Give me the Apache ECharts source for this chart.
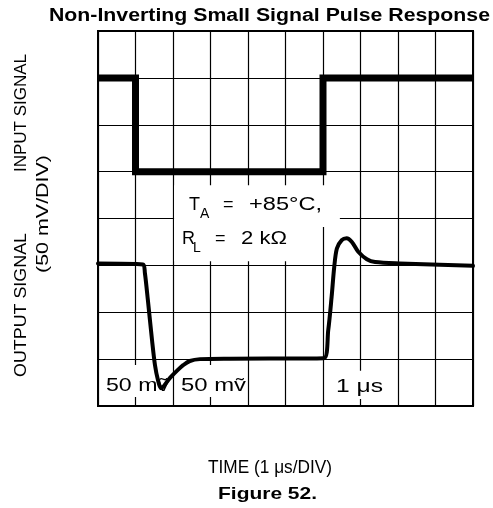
<!DOCTYPE html>
<html>
<head>
<meta charset="utf-8">
<script src="https://cdn.jsdelivr.net/npm/echarts@6/dist/echarts.min.js"></script>
<style>
  html, body { margin: 0; padding: 0; background: #fff; }
  #chart { width: 493px; height: 508px; }
</style>
</head>
<body>
<div id="chart"></div>
<script>
// Scope screen: time in divisions (1 µs/DIV), level in divisions (50 mV/DIV)
const xDivisions = [0, 1, 2, 3, 4, 5, 6, 7, 8, 9, 10];
const yDivisions = [0, 1, 2, 3, 4, 5, 6, 7, 8];

// Input pulse (upper trace)
const inputTime  = [0, 1.0, 1.0, 6.0, 6.0, 10];
const inputLevel = [7, 7, 5, 5, 7, 7];

// Output response (lower trace)
const outputTime  = [0, 1.2, 1.25, 1.33, 1.44, 1.52, 1.6, 1.68, 1.92, 2.13, 2.27, 2.45, 2.72, 3.52,
                     6.02, 6.14, 6.23, 6.3, 6.37, 6.5, 6.63, 6.77, 6.94, 7.17, 7.39, 8.05, 10];
const outputLevel = [3.04, 3.02, 2.84, 2.26, 1.41, 0.87, 0.55, 0.38, 0.6, 0.77, 0.87, 0.96, 1.0, 1.01,
                     1.02, 1.62, 2.33, 2.97, 3.36, 3.54, 3.58, 3.5, 3.29, 3.13, 3.07, 3.04, 2.99];

const pairs = (xs, ys) => xs.map((x, i) => [x, ys[i]]);

const PLAIN = '"Liberation Sans", Arial, sans-serif';
const BOLD = '"Liberation Sans", Arial, sans-serif';

const ctx = document.createElement('canvas').getContext('2d');
// Text element stretched horizontally to a given width
function label(str, opt) {
  const weight = opt.weight || 'normal';
  const family = opt.family || PLAIN;
  const size = opt.size;
  const fontStr = weight + ' ' + size + 'px ' + family;
  ctx.font = fontStr;
  const w = ctx.measureText(str).width;
  const sx = opt.width ? opt.width / w : 1;
  return {
    type: 'text',
    x: opt.x, y: opt.y,
    rotation: opt.rot || 0,
    scaleX: sx,
    z: 3,
    silent: true,
    style: {
      text: str,
      font: fontStr,
      fill: '#000',
      textAlign: opt.align || 'center',
      align: opt.align || 'center',
      textVerticalAlign: 'middle',
      verticalAlign: 'middle'
    }
  };
}

const chart = echarts.init(document.getElementById('chart'), null, { renderer: 'canvas' });

const splitStyle = { show: true, lineStyle: { color: '#000', width: 1.2 } };

chart.setOption({
  animation: false,
  backgroundColor: '#fff',
  grid: { left: 98, right: 20, top: 31, bottom: 102, show: true, borderColor: '#000', borderWidth: 2, backgroundColor: 'transparent' },
  xAxis: {
    type: 'value', min: xDivisions[0], max: xDivisions[xDivisions.length - 1], interval: 1,
    axisLine: { show: false }, axisTick: { show: false }, axisLabel: { show: false },
    splitLine: splitStyle
  },
  yAxis: {
    type: 'value', min: yDivisions[0], max: yDivisions[yDivisions.length - 1], interval: 1,
    axisLine: { show: false }, axisTick: { show: false }, axisLabel: { show: false },
    splitLine: splitStyle
  },
  series: [
    {
      // white backing behind the annotations
      type: 'line', data: [], z: 1, silent: true,
      markArea: {
        silent: true,
        itemStyle: { color: '#fff', borderWidth: 0 },
        label: { show: false },
        data: [
          [{ coord: [2.03, 4.71] }, { coord: [6.45, 3.82] }],
          [{ coord: [2.03, 4.0] }, { coord: [5.95, 3.09] }],
          [{ coord: [0.05, 0.875] }, { coord: [1.95, 0.19] }],
          [{ coord: [2.05, 0.875] }, { coord: [3.97, 0.19] }],
          [{ coord: [6.05, 0.75] }, { coord: [7.95, 0.15] }]
        ]
      }
    },
    {
      name: 'Input', type: 'line', z: 5, symbol: 'none',
      data: pairs(inputTime, inputLevel),
      lineStyle: { color: '#000', width: 7, join: 'miter', cap: 'butt' }
    },
    {
      name: 'Output', type: 'line', z: 5, symbol: 'none', smooth: 0.3,
      data: pairs(outputTime, outputLevel),
      lineStyle: { color: '#000', width: 4, join: 'round', cap: 'round' }
    }
  ],
  graphic: [
    label('Non-Inverting Small Signal Pulse Response', { family: BOLD, weight: 'bold', size: 18, x: 269.5, y: 16.5, width: 441 }),
    label('Figure 52.', { family: BOLD, weight: 'bold', size: 17, x: 267.5, y: 494, width: 99 }),
    label('TIME (1 μs/DIV)', { size: 18, x: 270, y: 468, width: 124 }),
    label('INPUT SIGNAL', { size: 16.5, x: 21, y: 113, width: 118, rot: Math.PI / 2 }),
    label('OUTPUT SIGNAL', { size: 16.5, x: 21, y: 305, width: 144, rot: Math.PI / 2 }),
    label('(50 mV/DIV)', { size: 16.5, x: 43, y: 214, width: 118, rot: Math.PI / 2 }),
    label('T', { size: 18, x: 189, y: 205, align: 'left' }),
    label('A', { size: 14, x: 200, y: 214, align: 'left' }),
    label('=', { size: 18, x: 223, y: 205, align: 'left' }),
    label('+85°C,', { size: 18, x: 249, y: 205, width: 73, align: 'left' }),
    label('R', { size: 18, x: 182, y: 239, align: 'left' }),
    label('L', { size: 14, x: 193, y: 248, align: 'left' }),
    label('=', { size: 18, x: 215, y: 239, align: 'left' }),
    label('2 kΩ', { size: 18, x: 241, y: 239, width: 46, align: 'left' }),
    label('50 mṽ', { size: 18, x: 106, y: 386, width: 63, align: 'left' }),
    label('50 mṽ', { size: 18, x: 181, y: 386, width: 65, align: 'left' }),
    label('1 μs', { size: 18, x: 336, y: 387, width: 47, align: 'left' })
  ]
});
</script>
</body>
</html>
